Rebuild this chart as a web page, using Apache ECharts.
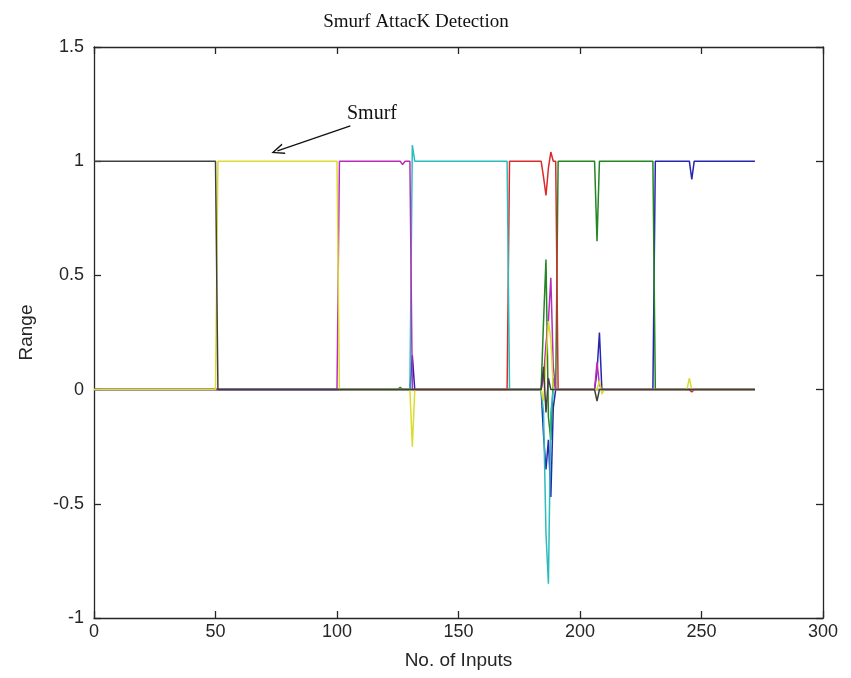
<!DOCTYPE html>
<html>
<head>
<meta charset="utf-8">
<script src="https://cdn.jsdelivr.net/npm/echarts@6/dist/echarts.min.js"></script>
<style>
  html, body { margin: 0; padding: 0; background: #fff; }
  #chart { width: 851px; height: 678px; }
</style>
</head>
<body>
<div id="chart"></div>
<script>
// Network outputs per input sample, one array of [input, value] corner points per class.
const blueOut = [[0,0],[130,0],[131,0.15],[132,0],[184,0],[185,-0.2],[186,-0.35],[187,-0.22],[188,-0.47],[189,-0.08],[190,0],[206,0],[207,0.08],[208,0.25],[209,0],[230,0],[231,1],[245,1],[246,0.92],[247,1],[272,1]];
const greenOut = [[0,0],[125,0],[126,0.01],[127,0],[184,0],[185,0.3],[186,0.57],[187,-0.12],[188,-0.22],[189,0.05],[190,0],[191,1],[206,1],[207,0.65],[208,1],[230,1],[231,0],[272,0]];
const redOut = [[0,0],[170,0],[171,1],[184,1],[185,0.93],[186,0.85],[187,0.97],[188,1.04],[189,1],[190,1],[191,0],[245,0],[246,-0.01],[247,0],[272,0]];
const cyanOut = [[0,0],[130,0],[131,1.07],[132,1],[170,1],[171,0],[184,0],[185,-0.1],[186,-0.63],[187,-0.85],[188,-0.1],[189,0],[272,0]];
const magentaOut = [[0,0],[100,0],[101,1],[126,1],[127,0.985],[128,1],[130,1],[131,0],[184,0],[185,0.05],[186,0.2],[187,0.3],[188,0.49],[189,0.1],[190,0],[206,0],[207,0.12],[208,0.02],[209,0],[272,0]];
const yellowOut = [[0,0],[50,0],[51,1],[100,1],[101,0],[130,0],[131,-0.25],[132,0],[184,0],[185,-0.05],[186,0.12],[187,0.3],[188,0.22],[189,0],[207,0],[208,0.04],[209,-0.02],[210,0],[244,0],[245,0.05],[246,0],[272,0]];
const blackOut = [[0,1],[50,1],[51,0],[184,0],[185,0.1],[186,-0.1],[187,0.05],[188,0],[206,0],[207,-0.05],[208,0],[272,0]];

const seriesList = [
  { name: 'b', data: blueOut, color: '#2626b0' },
  { name: 'g', data: greenOut, color: '#238523' },
  { name: 'r', data: redOut, color: '#dc2a2a' },
  { name: 'c', data: cyanOut, color: '#2cbcbc' },
  { name: 'm', data: magentaOut, color: '#bc2cbc' },
  { name: 'y', data: yellowOut, color: '#dcdc30' },
  { name: 'k', data: blackOut, color: '#404040' }
];

// Annotation arrow ends, in data coordinates
const arrowFrom = [105.5, 1.155];
const arrowTo = [75.5, 1.045];

const xTicks = { min: 0, max: 300, interval: 50 };
const yTicks = { min: -1, max: 1.5, interval: 0.5 };

const labelFont = { fontFamily: 'Liberation Sans, Arial, sans-serif', fontSize: 18, color: '#262626' };
const nameFont = { fontFamily: 'Liberation Sans, Arial, sans-serif', fontSize: 19, color: '#262626' };
const axisBase = {
  axisLine: { show: true, onZero: false, lineStyle: { color: '#262626', width: 1.3 } },
  axisTick: { show: true, inside: true, length: 7, lineStyle: { color: '#262626', width: 1.3 } },
  splitLine: { show: false }
};

const chart = echarts.init(document.getElementById('chart'), null, { renderer: 'canvas' });

const series = seriesList.map(s => ({
  type: 'line',
  name: s.name,
  data: s.data,
  showSymbol: false,
  symbol: 'none',
  animation: false,
  lineStyle: { color: s.color, width: 1.5 },
  itemStyle: { color: s.color }
}));

series[series.length - 1].markLine = {
  silent: true,
  animation: false,
  symbol: ['none', 'path://M0,10 L5,0 L10,10 L8.6,10 L5,2.6 L1.4,10 Z'],
  symbolSize: [11, 13],
  label: { show: false },
  lineStyle: { color: '#111', width: 1.3, type: 'solid' },
  data: [[{ coord: arrowFrom }, { coord: arrowTo }]]
};

chart.setOption({
  backgroundColor: '#fff',
  animation: false,
  title: {
    text: 'Smurf AttacK Detection',
    left: 411, top: 8, textAlign: 'center',
    textStyle: { fontFamily: 'Liberation Serif, Times New Roman, serif', fontSize: 19, fontWeight: 'normal', color: '#111' }
  },
  grid: { left: 94, right: 28, top: 47, bottom: 60, containLabel: false },
  xAxis: [
    Object.assign({
      type: 'value', position: 'bottom', min: xTicks.min, max: xTicks.max, interval: xTicks.interval,
      name: 'No. of Inputs', nameLocation: 'middle', nameGap: 33,
      nameTextStyle: nameFont,
      axisLabel: Object.assign({ margin: 5 }, labelFont)
    }, axisBase),
    Object.assign({
      type: 'value', position: 'top', min: xTicks.min, max: xTicks.max, interval: xTicks.interval,
      axisLabel: { show: false }
    }, axisBase)
  ],
  yAxis: [
    Object.assign({
      type: 'value', position: 'left', min: yTicks.min, max: yTicks.max, interval: yTicks.interval,
      name: 'Range', nameLocation: 'middle', nameGap: 58, nameRotate: 90,
      nameTextStyle: nameFont,
      axisLabel: Object.assign({ margin: 10 }, labelFont)
    }, axisBase),
    Object.assign({
      type: 'value', position: 'right', min: yTicks.min, max: yTicks.max, interval: yTicks.interval,
      axisLabel: { show: false }
    }, axisBase)
  ],
  graphic: [{
    type: 'text',
    left: 347, top: 104,
    style: { text: 'Smurf', font: '20px "Liberation Serif", "Times New Roman", serif', fill: '#111' }
  }],
  series: series
});
</script>
</body>
</html>
